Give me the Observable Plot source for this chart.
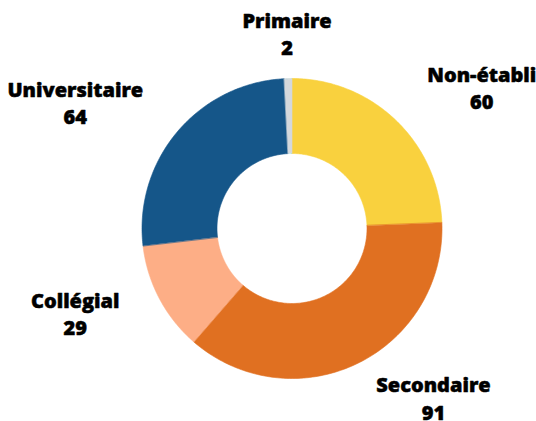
<!DOCTYPE html>
<html>
<head>
<meta charset="utf-8">
<script src="https://cdn.jsdelivr.net/npm/d3@7"></script>
<script src="https://cdn.jsdelivr.net/npm/@observablehq/plot@0.6"></script>
<style>
  html, body { margin: 0; padding: 0; background: #fff; }
  #chart svg { display: block; }
</style>
</head>
<body>
<div id="chart"></div>
<script>
// Data (clockwise from 12 o'clock)
const categories = ["Non-établi", "Secondaire", "Collégial", "Universitaire", "Primaire"];
const values = [60, 91, 29, 64, 2];
const colors = ["#F9D13E", "#E07021", "#FDAE86", "#155689", "#D4D8DC"];

const W = 536, H = 421;
const cx = 291.5, cy = 228, R = 150, r = 75, labelR = 195;
const fontSize = 20;
const fontSpec = `800 ${fontSize}px "Open Sans"`;

const pie = d3.pie().sort(null).value(d => d.value);
const arcs = pie(categories.map((c, i) => ({name: c, value: values[i], color: colors[i]})));

// Build ring segment outlines from pie angles
const ringPts = [];
arcs.forEach(a => {
  const n = 120;
  for (let k = 0; k <= n; k++) {
    const t = a.startAngle + (a.endAngle - a.startAngle) * k / n;
    ringPts.push({name: a.data.name, x: cx + R * Math.sin(t), y: cy - R * Math.cos(t)});
  }
  for (let k = n; k >= 0; k--) {
    const t = a.startAngle + (a.endAngle - a.startAngle) * k / n;
    ringPts.push({name: a.data.name, x: cx + r * Math.sin(t), y: cy - r * Math.cos(t)});
  }
});

// Labels
const ctx = document.createElement("canvas").getContext("2d");
ctx.font = fontSpec;
const labels = arcs.map(a => {
  const m = (a.startAngle + a.endAngle) / 2;
  const ax = cx + labelR * Math.sin(m);
  const ay = cy - labelR * Math.cos(m);
  const w = Math.max(ctx.measureText(a.data.name).width, ctx.measureText(String(a.data.value)).width);
  const s = Math.sin(m);
  const shift = Math.abs(s) < 0.2 ? 0 : (s > 0 ? w / 2 : -w / 2);
  const lift = Math.cos(m) < 0 ? -7 : -1;
  return {text: `${a.data.name}\n${a.data.value}`, x: ax + shift, y: ay + lift};
});

const chart = Plot.plot({
  width: W,
  height: H,
  margin: 0,
  x: {domain: [0, W], range: [0, W], axis: null},
  y: {domain: [0, H], range: [0, H], axis: null},
  color: {domain: categories, range: colors},
  marks: [
    Plot.line(ringPts, {x: "x", y: "y", z: "name", fill: "name", stroke: "name", strokeWidth: 0.6, curve: "linear-closed"}),
    Plot.text(labels, {
      x: "x", y: "y", text: "text",
      fontSize: fontSize, fontWeight: 800, fontFamily: "Open Sans",
      fill: "#000", stroke: "#000", strokeWidth: 0.5,
      textAnchor: "middle", lineAnchor: "middle", lineHeight: 1.37
    })
  ]
});
document.getElementById("chart").appendChild(chart);
</script>
</body>
</html>
